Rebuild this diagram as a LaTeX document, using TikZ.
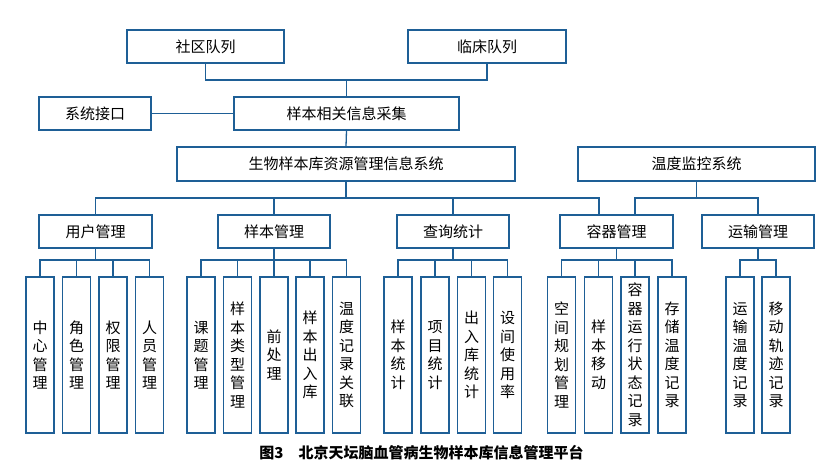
\documentclass[tikz,border=0pt]{standalone}
\usepackage{fontspec}
\setmainfont{Noto Sans CJK SC}
\usetikzlibrary{calc}

\definecolor{linecol}{RGB}{30,95,150}

\tikzset{
    box/.style={draw=linecol, line width=1.3pt, inner sep=0pt, align=center,
        font=\fontsize{15}{18.5}\selectfont},
    leaf/.style={box, minimum width=28pt, minimum height=156pt},
    link/.style={draw=linecol, line width=1.3pt}
}

\begin{document}
\begin{tikzpicture}[x=1pt, y=-1pt, line join=miter, line cap=rect]

    % 画布范围
    \useasboundingbox (0,0) rectangle (827,474);

    % 参数
    \pgfmathsetmacro{\busA}{80}   % 队列汇合线
    \pgfmathsetmacro{\busB}{198}  % 二级汇合线
    \pgfmathsetmacro{\busC}{260}  % 三级汇合线
    \pgfmathsetmacro{\leafY}{355} % 叶节点中心

    % 顶层节点
    \node[box, minimum width=157pt, minimum height=33pt] (comm) at (205.5,46.5) {社区队列};
    \node[box, minimum width=158pt, minimum height=33pt] (clin) at (487,46.5) {临床队列};
    \node[box, minimum width=112pt, minimum height=33pt] (iface) at (95,113.5) {系统接口};
    \node[box, minimum width=225pt, minimum height=33pt] (collect) at (346.5,113.5) {样本相关信息采集};
    \node[box, minimum width=338pt, minimum height=34pt] (biobank) at (346,164) {生物样本库资源管理信息系统};
    \node[box, minimum width=237pt, minimum height=34pt] (tempmon) at (696.5,164) {温度监控系统};

    % 二级节点
    \node[box, minimum width=113pt, minimum height=33pt] (user) at (95.5,231.5) {用户管理};
    \node[box, minimum width=112pt, minimum height=33pt] (sample) at (274,231.5) {样本管理};
    \node[box, minimum width=112pt, minimum height=33pt] (query) at (453,231.5) {查询统计};
    \node[box, minimum width=113pt, minimum height=33pt] (container) at (616.5,231.5) {容器管理};
    \node[box, minimum width=112pt, minimum height=33pt] (transport) at (758,231.5) {运输管理};

    % 叶节点
    \foreach \n/\x/\t in {u1/40/{中\\心\\管\\理}, u2/76.5/{角\\色\\管\\理},
            u3/113/{权\\限\\管\\理}, u4/149.5/{人\\员\\管\\理},
            s1/201/{课\\题\\管\\理}, s2/237.5/{样\\本\\类\\型\\管\\理},
            s3/274/{前\\处\\理}, s4/310/{样\\本\\出\\入\\库},
            s5/346.5/{温\\度\\记\\录\\关\\联},
            q1/398/{样\\本\\统\\计}, q2/435/{项\\目\\统\\计},
            q3/471.5/{出\\入\\库\\统\\计}, q4/507.5/{设\\间\\使\\用\\率},
            c1/561.5/{空\\间\\规\\划\\管\\理}, c2/598.5/{样\\本\\移\\动},
            c3/635/{容\\器\\运\\行\\状\\态\\记\\录}, c4/672/{存\\储\\温\\度\\记\\录},
            t1/740/{运\\输\\温\\度\\记\\录}, t2/776/{移\\动\\轨\\迹\\记\\录}}
        \node[leaf] (\n) at (\x,\leafY) {\t};

    % 汇合点
    \coordinate (jA) at (346.5,\busA);
    \coordinate (jB) at (346,\busB);
    \coordinate (cL) at ([xshift=-17.5pt]container.north);
    \coordinate (cR) at ([xshift=18.5pt]container.north);
    \coordinate (jT) at (tempmon.south |- jB);

    % 上部连线
    \draw[link] (comm.south) |- (jA) -| (clin.south);
    \draw[link] (jA) -- (collect.north);
    \draw[link] (iface.east) -- (collect.west);
    \draw[link] (collect.south) -- (biobank.north);
    \draw[link] (biobank.south) -- (jB);
    \draw[link] (user.north) |- (jB) -| (cL);
    \draw[link] (sample.north) -- (sample.north |- jB);
    \draw[link] (query.north) -- (query.north |- jB);
    \draw[link] (tempmon.south) -- (jT);
    \draw[link] (cR) |- (jT) -| (transport.north);

    % 下部连线
    \foreach \p/\a/\b/\others in {user/u1/u4/{u2,u3}, sample/s1/s5/{s2,s3,s4},
            query/q1/q4/{q2,q3}, container/c1/c4/{c2,c3}, transport/t1/t2/{}} {
        \draw[link] (\p.south) -- (\p.south |- 0,\busC);
        \draw[link] (\a.north) |- (\p.south |- 0,\busC) -| (\b.north);
        \foreach \o in \others
            \draw[link] (\o.north) -- (\o.north |- 0,\busC);
    }

    % 标题
    \node[font=\fontsize{15}{18}\selectfont\bfseries] (caption) at (421.5,453)
        {图3\hspace{1em}北京天坛脑血管病生物样本库信息管理平台};

\end{tikzpicture}
\end{document}
